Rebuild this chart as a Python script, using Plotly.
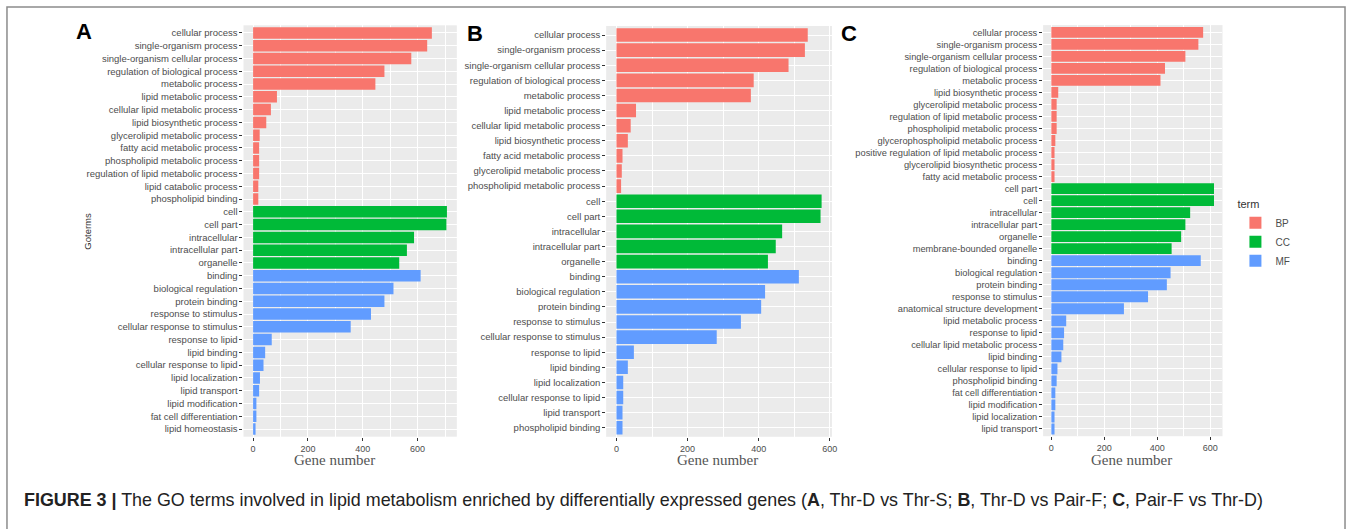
import plotly.graph_objects as go

W, H = 1356, 529

# ---------------- data ----------------
# Panel A (Thr-D vs Thr-S)
a_bp_terms = ["cellular process", "single-organism process", "single-organism cellular process",
              "regulation of biological process", "metabolic process", "lipid metabolic process",
              "cellular lipid metabolic process", "lipid biosynthetic process",
              "glycerolipid metabolic process", "fatty acid metabolic process",
              "phospholipid metabolic process", "regulation of lipid metabolic process",
              "lipid catabolic process", "phospholipid binding"]
a_bp_vals = [652, 635, 577, 479, 446, 87, 65, 48, 24, 22, 22, 22, 19, 19]
a_cc_terms = ["cell", "cell part", "intracellular", "intracellular part", "organelle"]
a_cc_vals = [707, 705, 587, 561, 533]
a_mf_terms = ["binding", "biological regulation", "protein binding", "response to stimulus",
              "cellular response to stimulus", "response to lipid", "lipid binding",
              "cellular response to lipid", "lipid localization", "lipid transport",
              "lipid modification", "fat cell differentiation", "lipid homeostasis"]
a_mf_vals = [611, 512, 479, 430, 356, 68, 44, 38, 25, 22, 12, 12, 9]

# Panel B (Thr-D vs Pair-F)
b_bp_terms = ["cellular process", "single-organism process", "single-organism cellular process",
              "regulation of biological process", "metabolic process", "lipid metabolic process",
              "cellular lipid metabolic process", "lipid biosynthetic process",
              "fatty acid metabolic process", "glycerolipid metabolic process",
              "phospholipid metabolic process"]
b_bp_vals = [538, 530, 484, 386, 378, 55, 40, 32, 17, 15, 13]
b_cc_terms = ["cell", "cell part", "intracellular", "intracellular part", "organelle"]
b_cc_vals = [577, 574, 466, 448, 426]
b_mf_terms = ["binding", "biological regulation", "protein binding", "response to stimulus",
              "cellular response to stimulus", "response to lipid", "lipid binding",
              "lipid localization", "cellular response to lipid", "lipid transport",
              "phospholipid binding"]
b_mf_vals = [513, 418, 407, 350, 282, 49, 32, 19, 19, 17, 17]

# Panel C (Pair-F vs Thr-D)
c_bp_terms = ["cellular process", "single-organism process", "single-organism cellular process",
              "regulation of biological process", "metabolic process", "lipid biosynthetic process",
              "glycerolipid metabolic process", "regulation of lipid metabolic process",
              "phospholipid metabolic process", "glycerophospholipid metabolic process",
              "positive regulation of lipid metabolic process",
              "glycerolipid biosynthetic process", "fatty acid metabolic process"]
c_bp_vals = [573, 555, 506, 429, 412, 26, 20, 20, 20, 15, 12, 12, 12]
c_cc_terms = ["cell part", "cell", "intracellular", "intracellular part", "organelle",
              "membrane-bounded organelle"]
c_cc_vals = [614, 614, 524, 506, 490, 454]
c_mf_terms = ["binding", "biological regulation", "protein binding", "response to stimulus",
              "anatomical structure development", "lipid metabolic process", "response to lipid",
              "cellular lipid metabolic process", "lipid binding", "cellular response to lipid",
              "phospholipid binding", "fat cell differentiation", "lipid modification",
              "lipid localization", "lipid transport"]
c_mf_vals = [564, 450, 436, 365, 274, 56, 48, 45, 38, 23, 20, 15, 15, 12, 12]

x_ticks = [0, 200, 400, 600]
x_minor = [100, 300, 500, 700]
term_names = ["BP", "CC", "MF"]
term_colors = {"BP": "#F8766D", "CC": "#00BA38", "MF": "#619CFF"}

caption = ("<b>FIGURE 3 |</b> The GO terms involved in lipid metabolism enriched by differentially "
           "expressed genes (<b>A</b>, Thr-D vs Thr-S; <b>B</b>, Thr-D vs Pair-F; "
           "<b>C</b>, Pair-F vs Thr-D)")

# ---------------- layout helpers ----------------
def px_x(v):
    return v / W

def px_y(v):
    return (H - v) / H

panels = [
    dict(key="", terms=[a_bp_terms, a_cc_terms, a_mf_terms], vals=[a_bp_vals, a_cc_vals, a_mf_vals],
         xpx=(244.4, 458.5), xr=[-35, 743], ypx=(25.3, 436.7), fs=9.5),
    dict(key="2", terms=[b_bp_terms, b_cc_terms, b_mf_terms], vals=[b_bp_vals, b_cc_vals, b_mf_vals],
         xpx=(608.4, 835.0), xr=[-29, 606], ypx=(26.0, 436.8), fs=9.5),
    dict(key="3", terms=[c_bp_terms, c_cc_terms, c_mf_terms], vals=[c_bp_vals, c_cc_vals, c_mf_vals],
         xpx=(1047.0, 1227.0), xr=[-31, 646], ypx=(25.1, 436.2), fs=9.3),
]

fig = go.Figure()
font_sans = "Liberation Sans, Arial, sans-serif"
tick_col = "#4D4D4D"

for pi, p in enumerate(panels):
    k = p["key"]
    cats = p["terms"][0] + p["terms"][1] + p["terms"][2]
    n = len(cats)
    for ti, tname in enumerate(term_names):
        fig.add_trace(go.Bar(
            x=p["vals"][ti], y=p["terms"][ti], orientation="h",
            marker=dict(color=term_colors[tname], line=dict(width=0)),
            width=0.9, name=tname, legendgroup=tname, showlegend=(pi == 0),
            xaxis="x" + k, yaxis="y" + k,
        ))
    xa = dict(domain=[px_x(p["xpx"][0]), px_x(p["xpx"][1])], range=p["xr"], anchor="y" + k,
              tickvals=x_ticks, ticks="outside", ticklen=3, tickcolor="#333333", tickwidth=1,
              showgrid=True, gridcolor="white", gridwidth=1.1, zeroline=False, showline=False,
              tickfont=dict(family=font_sans, size=9, color=tick_col),
              minor=dict(tickvals=x_minor, showgrid=True, gridcolor="white", gridwidth=0.5, ticks=""))
    ya = dict(domain=[px_y(p["ypx"][1]), px_y(p["ypx"][0])], type="category",
              categoryorder="array", categoryarray=cats, range=[n - 0.4, -0.6], anchor="x" + k,
              ticks="outside", ticklen=3, tickcolor="#333333", tickwidth=1,
              showgrid=True, gridcolor="white", gridwidth=1.1, zeroline=False, showline=False,
              tickfont=dict(family=font_sans, size=p["fs"], color=tick_col))
    fig.layout["xaxis" + k] = xa
    fig.layout["yaxis" + k] = ya

annotations = []
# panel letters
for letter, xx, yy in [("A", 84, 31), ("B", 477, 33), ("C", 852, 33)]:
    annotations.append(dict(text="<b>" + letter + "</b>", x=px_x(xx), y=px_y(yy), xref="paper",
                            yref="paper", showarrow=False, xanchor="center", yanchor="middle",
                            font=dict(family=font_sans, size=22, color="black")))
# axis titles
for xx in [336, 720, 1136]:
    annotations.append(dict(text="Gene number", x=px_x(xx), y=px_y(460), xref="paper", yref="paper",
                            showarrow=False, xanchor="center", yanchor="middle",
                            font=dict(family="Liberation Serif, Times New Roman, serif", size=15,
                                      color="#555555")))
annotations.append(dict(text="Goterms", x=px_x(88), y=px_y(231), xref="paper", yref="paper",
                        showarrow=False, textangle=-90, xanchor="center", yanchor="middle",
                        font=dict(family=font_sans, size=9.5, color="#333333")))
annotations.append(dict(text=caption, x=px_x(22), y=px_y(500), xref="paper", yref="paper",
                        showarrow=False, xanchor="left", yanchor="middle",
                        font=dict(family=font_sans, size=17.9, color="#222222")))

fig.update_layout(
    width=W, height=H, autosize=False,
    margin=dict(l=0, r=0, t=0, b=0),
    paper_bgcolor="white", plot_bgcolor="#EBEBEB",
    bargap=0.1, barmode="overlay",
    annotations=annotations,
    legend=dict(title=dict(text="term", font=dict(family=font_sans, size=11, color="#333333")),
                x=px_x(1240), y=px_y(194), xanchor="left", yanchor="top",
                font=dict(family=font_sans, size=10, color="#4D4D4D"),
                bgcolor="rgba(0,0,0,0)", tracegroupgap=0, itemwidth=30),
    shapes=[dict(type="rect", xref="paper", yref="paper", x0=px_x(7), x1=px_x(1350),
                 y0=-0.1, y1=px_y(7), line=dict(color="#8C8C8C", width=1.5),
                 fillcolor="rgba(0,0,0,0)", layer="below")],
)

fig.write_html("out.html", config={"displayModeBar": False},
               post_script="document.body.style.margin='0';document.body.style.overflow='hidden';")
